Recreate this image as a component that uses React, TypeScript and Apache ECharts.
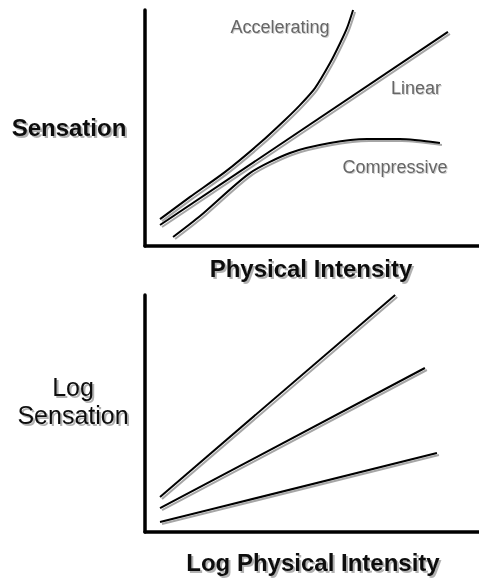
import React, { useEffect, useRef } from "react";
import * as echarts from "echarts";

// Top panel (linear axes): [physical intensity, sensation]
const accelerating: number[][] = [
  [0.45, 1.14], [1.35, 2.08], [2.4, 3.14], [3.44, 4.36], [4.19, 5.34],
  [4.64, 5.97], [5.09, 6.69], [5.54, 7.75], [5.84, 8.59], [6.05, 9.24],
  [6.23, 10.0],
];
const linear: number[][] = [
  [0.45, 0.89], [9.07, 9.07],
];
const compressive: number[][] = [
  [0.84, 0.38], [1.65, 1.27], [3.14, 3.09], [4.34, 3.94], [5.54, 4.36],
  [6.65, 4.53], [7.63, 4.53], [8.83, 4.36],
];

// Bottom panel (log-log axes)
const logAccelerating: number[][] = [[0.45, 1.48], [7.49, 10.0]];
const logLinear: number[][] = [[0.45, 1.01], [8.38, 6.92]];
const logCompressive: number[][] = [[0.45, 0.42], [8.74, 3.33]];

const curveLabels = ["Accelerating", "Linear", "Compressive"];

export default function App() {
  const ref = useRef<HTMLDivElement>(null);
  useEffect(() => {
    document.body.style.margin = "0";
    const chart = echarts.init(ref.current!, null, { renderer: "svg" });
    const axisLine = { show: true, lineStyle: { color: "#000", width: 3.5 } };
    const baseAxis = (gridIndex: number) => ({
      type: "value" as const,
      gridIndex,
      min: 0,
      max: 10,
      axisLine,
      axisTick: { show: false },
      axisLabel: { show: false },
      splitLine: { show: false },
    });
    const lineSeries = (data: number[][], idx: number, smooth: number | boolean) => ({
      type: "line" as const,
      data,
      xAxisIndex: idx,
      yAxisIndex: idx,
      smooth,
      symbol: "none",
      clip: false,
      lineStyle: {
        color: "#000",
        width: 2,
        shadowColor: "rgba(0,0,0,0.35)",
        shadowOffsetX: 2,
        shadowOffsetY: 2,
        shadowBlur: 1,
      },
    });
    const shadow = {
      textShadowColor: "rgba(0,0,0,0.3)",
      textShadowOffsetX: 2,
      textShadowOffsetY: 2,
      textShadowBlur: 1,
    };
    const bigText = (text: string, x: number, y: number, weight: string, size: number) => ({
      type: "text" as const,
      x,
      y,
      style: {
        text,
        fill: "#111",
        font: `${weight} ${size}px "Liberation Sans", Arial, sans-serif`,
        align: "center",
        verticalAlign: "middle",
        ...shadow,
      },
    });
    const smallText = (text: string, x: number, y: number) => ({
      type: "text" as const,
      x,
      y,
      style: {
        text,
        fill: "#666",
        font: `normal 18px "Liberation Sans", Arial, sans-serif`,
        align: "center",
        verticalAlign: "middle",
        textShadowColor: "rgba(0,0,0,0.2)",
        textShadowOffsetX: 1,
        textShadowOffsetY: 1,
        textShadowBlur: 1,
      },
    });
    chart.setOption({
      animation: false,
      grid: [
        { left: 145, right: 0, top: 10, height: 236 },
        { left: 145, right: 0, top: 295, height: 237 },
      ],
      xAxis: [baseAxis(0), baseAxis(1)],
      yAxis: [baseAxis(0), baseAxis(1)],
      series: [
        lineSeries(accelerating, 0, 0.25),
        lineSeries(linear, 0, false),
        lineSeries(compressive, 0, 0.25),
        lineSeries(logAccelerating, 1, false),
        lineSeries(logLinear, 1, false),
        lineSeries(logCompressive, 1, false),
      ],
      graphic: [
        bigText("Sensation", 69, 127, "bold", 24),
        bigText("Physical Intensity", 311, 268, "bold", 24),
        smallText(curveLabels[0], 280, 27),
        smallText(curveLabels[1], 416, 88),
        smallText(curveLabels[2], 395, 167),
        bigText("Log", 73, 387, "normal", 25),
        bigText("Sensation", 73, 415, "normal", 25),
        bigText("Log Physical Intensity", 313, 562, "bold", 24),
      ],
    });
    return () => chart.dispose();
  }, []);
  return <div ref={ref} style={{ width: 479, height: 578 }} />;
}
